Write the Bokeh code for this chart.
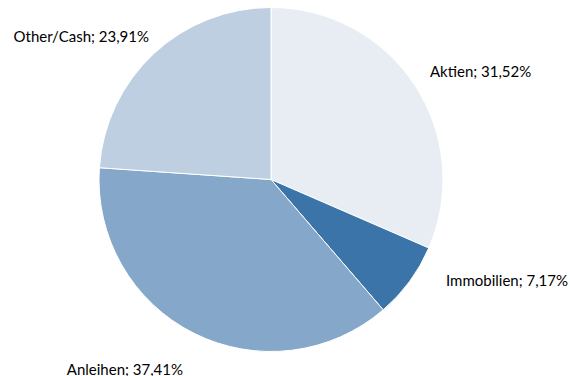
import math
from bokeh.plotting import figure
from bokeh.models import ColumnDataSource, Range1d
from bokeh.embed import file_html
from bokeh.resources import INLINE

categories = ["Aktien", "Immobilien", "Anleihen", "Other/Cash"]
shares = [31.52, 7.17, 37.41, 23.91]
label_texts = ["Aktien; 31,52%", "Immobilien; 7,17%", "Anleihen; 37,41%", "Other/Cash; 23,91%"]
colors = ["#e7edf2", "#3a74a9", "#84a7ca", "#bdcfe1"]

W, H = 570, 376
cx, cy, R = 270.5, H - 179, 172

total = sum(shares)
starts, ends = [], []
acc = 0.0
for s in shares:
    a0 = math.pi / 2 - 2 * math.pi * acc / total
    acc += s
    a1 = math.pi / 2 - 2 * math.pi * acc / total
    starts.append(a0)
    ends.append(a1)

src = ColumnDataSource(dict(cat=categories, start=starts, end=ends, color=colors))

p = figure(width=W, height=H, output_backend="svg", toolbar_location=None,
           x_range=Range1d(0, W), y_range=Range1d(0, H),
           min_border=0, outline_line_color=None)
p.axis.visible = False
p.grid.visible = False
p.background_fill_color = "white"
p.border_fill_color = "white"

p.wedge(x=cx, y=cy, radius=R, start_angle="start", end_angle="end",
        direction="clock", fill_color="color", line_color="white",
        line_width=1, source=src)

# label placement (layout): anchor offsets relative to pie center, in pixels
label_layout = [
    (159, 109, "left"),
    (175, -100, "left"),
    (-88, -189, "right"),
    (-122, 144, "right"),
]
lx = [cx + dx for dx, dy, al in label_layout]
ly = [cy + dy for dx, dy, al in label_layout]
aligns = [al for dx, dy, al in label_layout]
lsrc = ColumnDataSource(dict(x=lx, y=ly, t=label_texts, a=aligns))
p.text(x="x", y="y", text="t", text_align="a", text_baseline="middle",
       text_font_size="15px", text_color="#000000",
       text_font={"value": "Lato"}, source=lsrc)

open("out.html", "w").write(file_html(p, INLINE))
